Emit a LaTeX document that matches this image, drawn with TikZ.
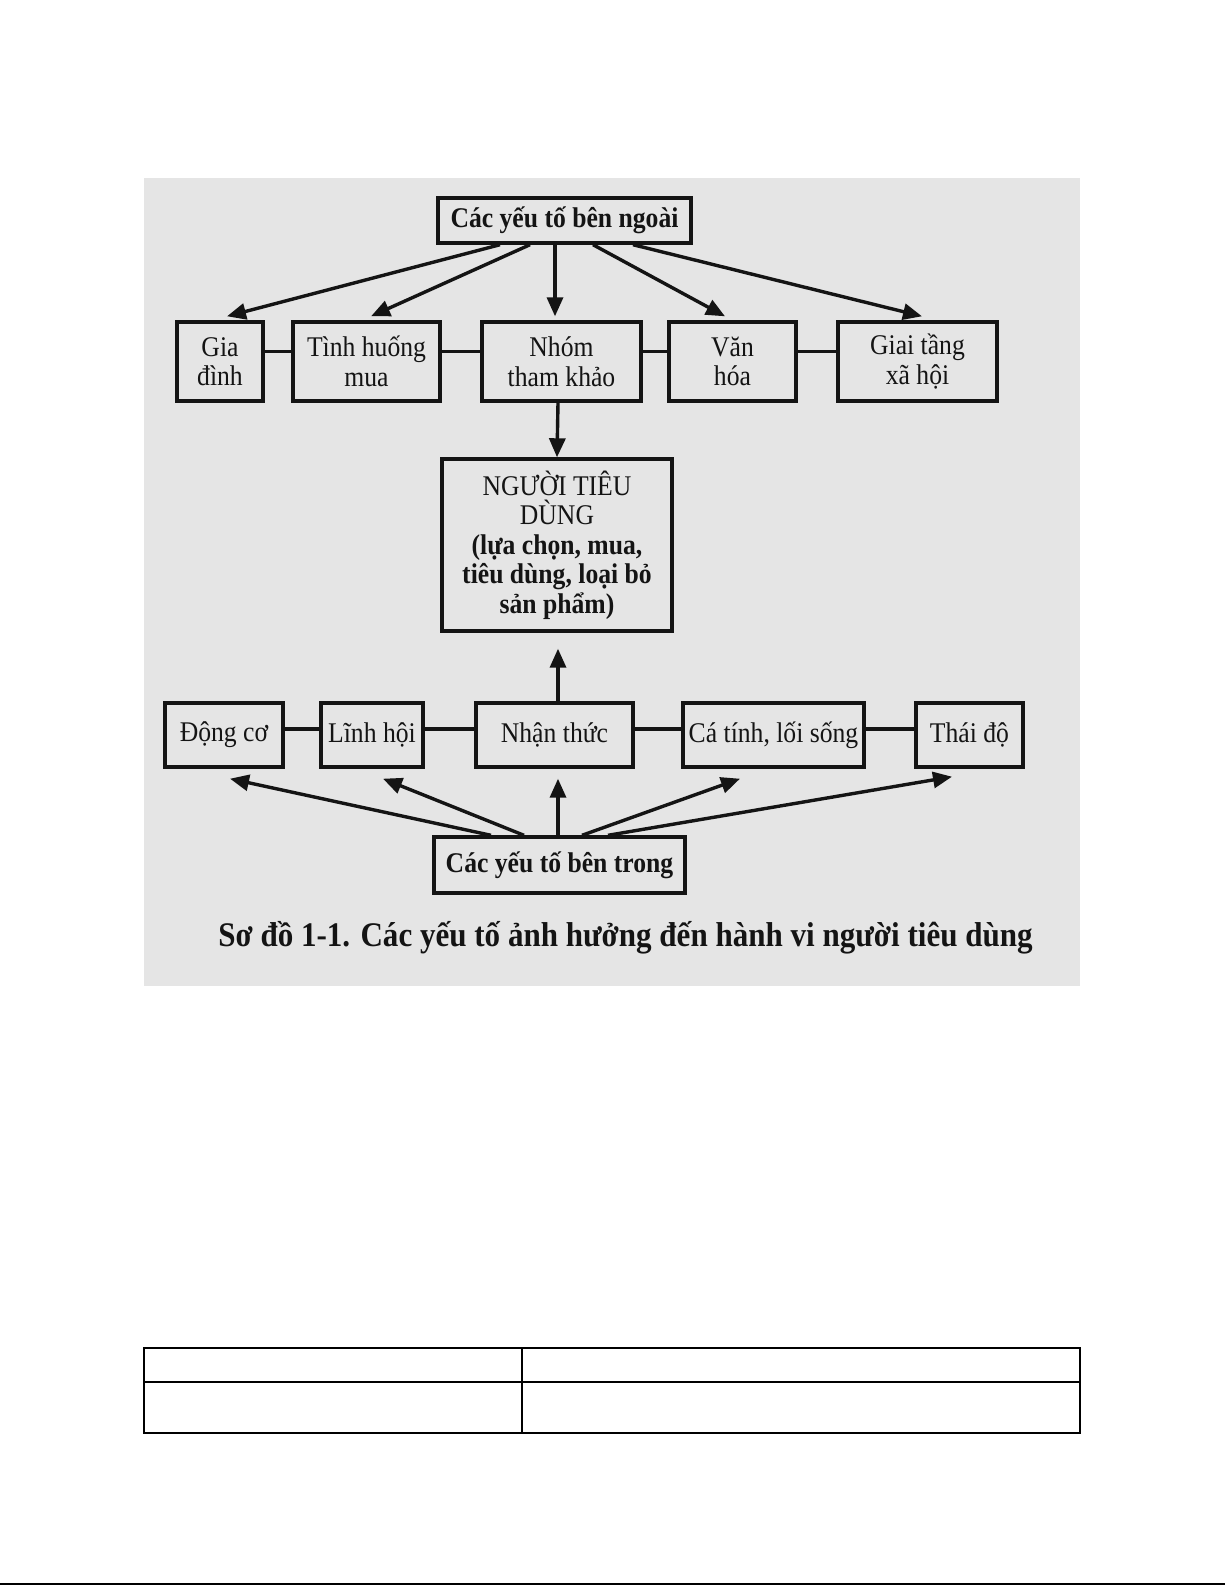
\documentclass[tikz,border=0pt]{standalone}
\usepackage{fontspec}
\setmainfont[FakeStretch=0.9]{Liberation Serif}
\usetikzlibrary{arrows.meta}
\definecolor{scan}{RGB}{229,229,229}
\definecolor{ink}{RGB}{20,20,20}
\begin{document}
\begin{tikzpicture}[x=1pt,y=-1pt,
  box/.style={draw=ink, line width=3.4pt, inner sep=0pt, align=center, text=ink,
    font=\fontsize{28.5}{29.5}\selectfont},
  bbox/.style={box, font=\fontsize{28.5}{29.5}\selectfont\bfseries},
  link/.style={draw=ink, line width=3.4pt},
  arr/.style={draw=ink, line width=3.4pt, -{Triangle[length=19pt,width=16pt]}}]
\useasboundingbox (0,0) rectangle (1225,1585);
\fill[white] (0,0) rectangle (1225,1585);
\fill[scan] (144,178) rectangle (1080,986);

% top
\node[bbox, minimum width=253pt, minimum height=45pt] (ext) at (564.5,220.5) {Các yếu tố bên ngoài};
% row 1
\node[box, minimum width=86pt,  minimum height=79pt] (gia)  at (220,361.5)   {Gia\\đình};
\node[box, minimum width=147pt, minimum height=79pt] (tinh) at (366.5,361.5) {Tình huống\\mua};
\node[box, minimum width=159pt, minimum height=79pt] (nhom) at (561.5,361.5) {Nhóm\\tham khảo};
\node[box, minimum width=127pt, minimum height=79pt] (van)  at (732.5,361.5) {Văn\\hóa};
\node[box, minimum width=159pt, minimum height=79pt] (giai) at (917.5,361.5) {Giai tầng\\xã hội};
% centre
\node[box, minimum width=230pt, minimum height=172pt] (ntd) at (557,545)
  {NGƯỜI TIÊU\\DÙNG\\\textbf{(lựa chọn, mua,}\\\textbf{tiêu dùng, loại bỏ}\\\textbf{sản phẩm)}};
% row 2
\node[box, minimum width=118pt, minimum height=64pt] (dong) at (224,735)   {Động cơ};
\node[box, minimum width=102pt, minimum height=64pt] (linh) at (372,735)   {Lĩnh hội};
\node[box, minimum width=157pt, minimum height=64pt] (nhan) at (554.5,735) {Nhận thức};
\node[box, minimum width=181pt, minimum height=64pt] (ca)   at (773.5,735) {Cá tính, lối sống};
\node[box, minimum width=107pt, minimum height=64pt] (thai) at (969.5,735) {Thái độ};
% bottom
\node[bbox, minimum width=251pt, minimum height=56pt] (int) at (559.5,865) {Các yếu tố bên trong};
% caption
\node[text=ink, font=\fontsize{34.5}{36}\selectfont\bfseries] (cap) at (625.5,938)
  {Sơ đồ 1-1. Các yếu tố ảnh hưởng đến hành vi người tiêu dùng};

% row links
\draw[link] ([yshift=10pt]gia.east)  -- ([yshift=10pt]tinh.west);
\draw[link] ([yshift=10pt]tinh.east) -- ([yshift=10pt]nhom.west);
\draw[link] ([yshift=10pt]nhom.east) -- ([yshift=10pt]van.west);
\draw[link] ([yshift=10pt]van.east)  -- ([yshift=10pt]giai.west);
\draw[link] ([yshift=6pt]dong.east) -- ([yshift=6pt]linh.west);
\draw[link] ([yshift=6pt]linh.east) -- ([yshift=6pt]nhan.west);
\draw[link] ([yshift=6pt]nhan.east) -- ([yshift=6pt]ca.west);
\draw[link] ([yshift=6pt]ca.east)   -- ([yshift=6pt]thai.west);

% arrows from external factors
\draw[arr] ([xshift=-64.5pt]ext.south) -- ([xshift=7pt,yshift=4pt]gia.north);
\draw[arr] ([xshift=-34.5pt]ext.south) -- ([xshift=4.5pt,yshift=4pt]tinh.north);
\draw[arr] ([xshift=-9.5pt]ext.south)  -- ([xshift=-6.5pt,yshift=4pt]nhom.north);
\draw[arr] ([xshift=28.5pt]ext.south)  -- ([xshift=-7.5pt,yshift=4pt]van.north);
\draw[arr] ([xshift=68.5pt]ext.south)  -- ([xshift=4.5pt,yshift=4pt]giai.north);
% centre arrows
\draw[arr] ([xshift=-3.5pt]nhom.south) -- (ntd.north);
\draw[arr] ([xshift=3.5pt]nhan.north) -- ([xshift=1pt,yshift=-16pt]ntd.south);
% arrows from internal factors
\draw[arr] ([xshift=-68.5pt]int.north) -- ([xshift=6pt,yshift=-10pt]dong.south);
\draw[arr] ([xshift=-35.5pt]int.north) -- ([xshift=11pt,yshift=-10pt]linh.south);
\draw[arr] ([xshift=-1.5pt]int.north)  -- ([xshift=3.5pt,yshift=-10pt]nhan.south);
\draw[arr] ([xshift=22.5pt]int.north)  -- ([xshift=-33.5pt,yshift=-10pt]ca.south);
\draw[arr] ([xshift=48.5pt]int.north)  -- ([xshift=-17.5pt,yshift=-8pt]thai.south);

% empty table
\draw[line width=1.5pt] (144,1348) rectangle (1080,1433);
\draw[line width=1.5pt] (144,1382) -- (1080,1382);
\draw[line width=1.5pt] (522,1348) -- (522,1433);
% bottom rule
\draw[line width=2pt] (0,1584) -- (1225,1584);
\end{tikzpicture}
\end{document}
